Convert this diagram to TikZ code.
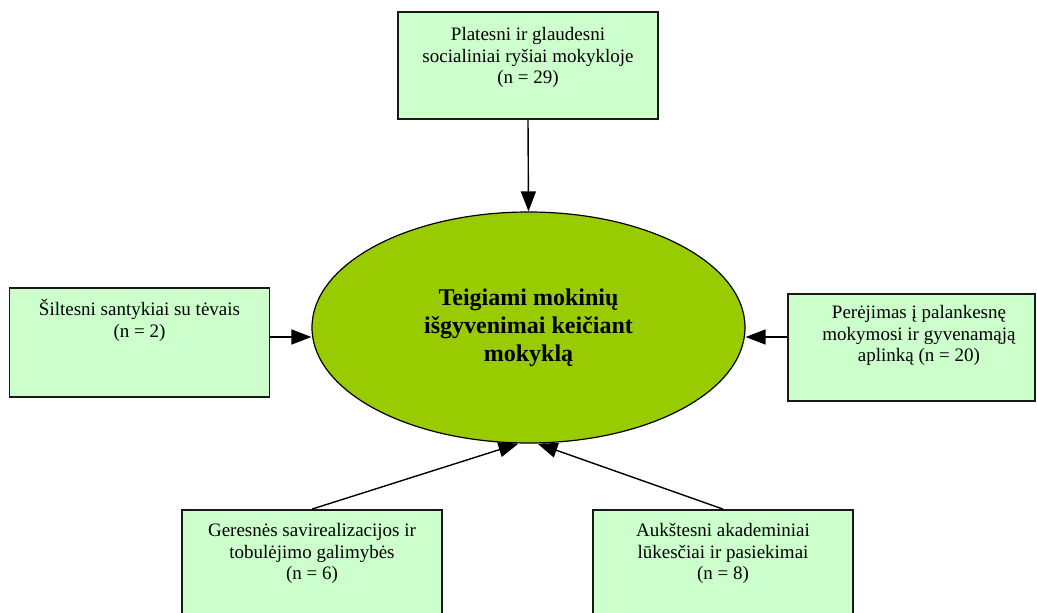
\documentclass[tikz,border=0pt]{standalone}
\usepackage{fontspec}
\setmainfont{Liberation Serif}
\usetikzlibrary{arrows.meta,shapes.geometric}
\definecolor{boxgreen}{HTML}{CCFFCC}
\definecolor{ellgreen}{HTML}{99CC00}
\tikzset{
  box/.style={draw=black!90, line width=1.8pt, fill=boxgreen, rectangle, minimum width=260pt, minimum height=107pt, inner sep=0pt},
  txt/.style={align=center, inner sep=0pt, anchor=north, font=\fontsize{19}{21.7}\selectfont},
  arr/.style={line width=1.4pt, -{Triangle[length=20pt,width=15pt]}},
}
\newcommand{\fl}{\rule{0pt}{18pt}}
\begin{document}
\begin{tikzpicture}[x=1pt,y=-1pt]
\useasboundingbox (0,0) rectangle (1037,613);
% boxes
\node[box] (top) at (528,65.5) {};
\node[box, minimum height=109pt] (lbox) at (139.5,342.5) {};
\node[box, minimum width=247pt] (rbox) at (911.5,347.5) {};
\node[box] (blbox) at (312,563.5) {};
\node[box] (brbox) at (723,563.5) {};
% texts
\node[txt] (ttop) at ([yshift=-11pt]top.north) {\fl Platesni ir glaudesni\\socialiniai ryšiai mokykloje\\(n = 29)};
\node[txt] (tl) at ([yshift=-10pt]lbox.north) {\fl Šiltesni santykiai su tėvais\\(n = 2)};
\node[txt] (tr) at ([xshift=7.5pt,yshift=-7pt]rbox.north) {\fl Perėjimas į palankesnę\\mokymosi ir gyvenamąją\\aplinką (n = 20)};
\node[txt] (tbl) at ([yshift=-9pt]blbox.north) {\fl Geresnės savirealizacijos ir\\tobulėjimo galimybės\\(n = 6)};
\node[txt] (tbr) at ([yshift=-9pt]brbox.north) {\fl Aukštesni akademiniai\\lūkesčiai ir pasiekimai\\(n = 8)};
% ellipse
\node[ellipse, draw=black, line width=1.2pt, fill=ellgreen, minimum width=433pt, minimum height=231pt, inner sep=0pt,
      align=center, font=\fontsize{24}{28}\selectfont\bfseries] (ell) at (528.5,327.5)
      {Teigiami mokinių\\išgyvenimai keičiant\\mokyklą};
% connectors
\draw[arr] (top.south) -- (ell.north);
\draw[arr] ([yshift=5.5pt]lbox.east) -- ([yshift=5.5pt]lbox.east -| ell.west);
\draw[arr] ([yshift=10.5pt]rbox.west) -- ([yshift=10.5pt]rbox.west -| ell.east);
\draw[arr] (blbox.north) -- ([xshift=-10pt]ell.south);
\draw[arr] (brbox.north) -- ([xshift=9pt]ell.south);
\end{tikzpicture}
\end{document}
